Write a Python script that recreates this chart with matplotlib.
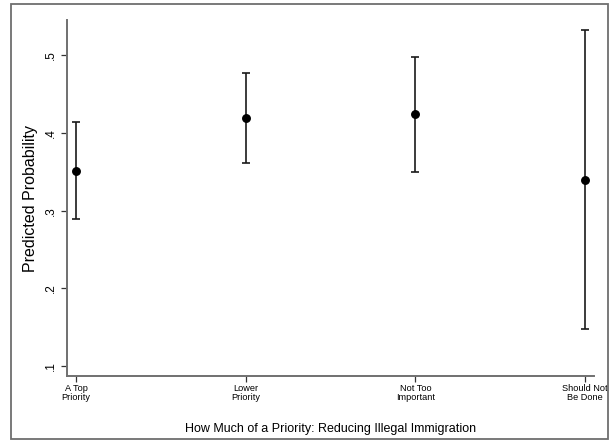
import matplotlib
matplotlib.use("Agg")
import matplotlib.pyplot as plt
from matplotlib.patches import Rectangle

# Predicted probabilities with 95% confidence bounds
categories = ["A Top\nPriority", "Lower\nPriority", "Not Too\nImportant", "Should Not\nBe Done"]
estimates = [0.351, 0.419, 0.424, 0.340]
lower_ci = [0.289, 0.361, 0.350, 0.148]
upper_ci = [0.414, 0.477, 0.498, 0.533]
y_ticks = [0.1, 0.2, 0.3, 0.4, 0.5]
y_tick_labels = [".1", ".2", ".3", ".4", ".5"]

plt.rcParams["font.family"] = ["Liberation Sans", "DejaVu Sans"]

W, H, DPI = 610, 440, 100
fig = plt.figure(figsize=(W / DPI, H / DPI), dpi=DPI)
fig.patch.set_facecolor("white")

# outer frame
fig.add_artist(Rectangle((10.5 / W, 1 - 438.5 / H), 597 / W, 434 / H,
                         transform=fig.transFigure, fill=False,
                         edgecolor="#6e6e6e", linewidth=1.3))

ax = fig.add_axes([66.7 / W, 1 - 376 / H, (594 - 66.7) / W, (376 - 20) / H])

x = list(range(1, len(categories) + 1))
err_low = [e - l for e, l in zip(estimates, lower_ci)]
err_high = [u - e for e, u in zip(estimates, upper_ci)]
ax.errorbar(x, estimates, yerr=[err_low, err_high], fmt="o", color="black",
            ecolor="#1a1a1a", elinewidth=1.2, capsize=3.2, capthick=1.2,
            markersize=5.4, zorder=3)

ax.set_xlim(0.945, 4.053)
ax.set_ylim(0.0871, 0.5455)

ax.set_xticks(x)
ax.set_xticklabels(categories, fontsize=6.6, linespacing=0.95)
ax.set_yticks(y_ticks)
ax.set_yticklabels(y_tick_labels, fontsize=8.5, rotation=90, va="center")

for side in ("top", "right"):
    ax.spines[side].set_visible(False)
for side in ("left", "bottom"):
    ax.spines[side].set_color("#707070")
    ax.spines[side].set_linewidth(1.4)

ax.tick_params(axis="x", length=4, width=0.9, color="#333333", pad=2)
ax.tick_params(axis="y", length=4.2, width=0.9, color="#333333", pad=3)

ax.set_ylabel("Predicted Probability", fontsize=11.5, labelpad=5)
ax.set_xlabel("How Much of a Priority: Reducing Illegal Immigration", fontsize=9, labelpad=15)

fig.savefig("out.png", dpi=DPI)
